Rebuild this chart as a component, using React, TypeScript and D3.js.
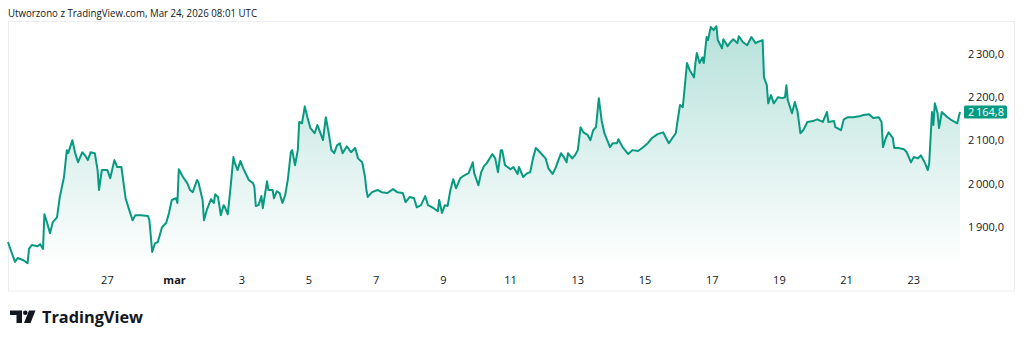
import React from "react";
import * as d3 from "d3";

// Hours since 2026-02-24 00:00 UTC, closing price
const priceSeries: [number, number][] = [
  [1,1865],[3,1846],[6,1819],[8,1828],[12,1823],[15,1816],[16,1849],[18,1858],[22,1855],[24,1860],
  [26,1849],[27,1929],[29,1909],[31,1885],[33,1911],[36,1922],[38,1969],[41,2015],[43,2077],[44,2070],
  [47,2100],[49,2070],[51,2049],[54,2072],[56,2065],[58,2054],[60,2072],[63,2070],[65,2031],[66,1985],
  [68,2031],[72,2031],[74,2012],[77,2054],[79,2038],[82,2038],[85,1966],[87,1945],[90,1915],[92,1927],
  [96,1927],[101,1925],[102,1915],[104,1842],[106,1862],[108,1865],[111,1899],[114,1909],[116,1932],[118,1962],
  [121,1966],[122,1955],[123,2033],[126,2015],[129,2001],[131,1985],[133,1980],[136,2008],[137,2003],[140,1962],
  [141,1915],[143,1939],[146,1964],[148,1955],[149,1975],[151,1969],[153,1927],[155,1950],[156,1945],[158,1929],
  [160,1992],[162,2061],[163,2047],[165,2031],[167,2052],[169,2035],[173,2008],[176,2001],[177,1992],[178,1948],
  [180,1950],[182,1971],[183,1943],[186,2005],[187,1985],[190,1985],[191,1966],[193,1982],[195,1978],[197,1955],
  [199,1973],[201,2012],[203,2072],[204,2077],[206,2042],[208,2077],[209,2142],[211,2139],[213,2178],[215,2151],
  [217,2128],[220,2116],[222,2135],[224,2118],[226,2100],[228,2153],[230,2118],[232,2077],[234,2070],[236,2088],
  [238,2093],[240,2070],[243,2086],[246,2072],[249,2082],[251,2058],[254,2049],[256,2015],[257,1985],[258,1969],
  [261,1980],[265,1985],[268,1980],[272,1978],[276,1987],[279,1980],[283,1978],[285,1957],[288,1969],[291,1966],
  [293,1945],[296,1950],[299,1971],[301,1950],[305,1943],[308,1936],[309,1962],[311,1932],[313,1950],[315,1948],
  [317,1985],[319,2010],[321,1989],[324,2012],[327,2019],[330,2024],[333,2049],[334,2024],[337,1996],[339,2026],
  [341,2040],[343,2047],[347,2068],[349,2058],[351,2026],[353,2077],[354,2077],[356,2042],[360,2033],[362,2038],
  [365,2022],[366,2038],[369,2015],[372,2024],[374,2026],[376,2058],[378,2082],[381,2072],[385,2058],[387,2035],
  [390,2022],[392,2035],[396,2070],[398,2061],[400,2049],[401,2070],[404,2058],[406,2065],[408,2077],[410,2130],
  [412,2118],[415,2112],[417,2100],[419,2123],[421,2130],[423,2197],[425,2146],[427,2116],[429,2100],[431,2084],
  [433,2093],[436,2093],[437,2102],[440,2084],[444,2068],[447,2077],[451,2075],[454,2082],[458,2093],[461,2105],
  [465,2114],[469,2118],[471,2105],[473,2093],[476,2107],[478,2116],[479,2139],[481,2181],[483,2176],[485,2243],
  [486,2278],[488,2261],[491,2245],[492,2278],[493,2301],[495,2278],[497,2291],[498,2278],[500,2338],[501,2331],
  [503,2361],[505,2354],[507,2363],[508,2331],[511,2312],[512,2333],[515,2317],[517,2326],[519,2333],[522,2324],
  [523,2340],[526,2326],[529,2319],[532,2338],[535,2324],[536,2326],[540,2331],[541,2245],[543,2227],[544,2185],
  [546,2204],[548,2185],[551,2199],[554,2197],[556,2199],[557,2227],[558,2192],[561,2162],[563,2188],[565,2165],
  [567,2116],[569,2123],[572,2142],[576,2144],[579,2148],[583,2142],[586,2165],[587,2142],[591,2144],[592,2130],
  [596,2123],[598,2148],[601,2153],[605,2153],[609,2155],[612,2158],[616,2160],[619,2151],[623,2153],[625,2142],
  [626,2084],[628,2105],[630,2118],[633,2105],[634,2082],[637,2082],[641,2079],[643,2072],[646,2049],[648,2061],
  [651,2058],[653,2065],[656,2047],[658,2031],[659,2047],[661,2165],[662,2135],[663,2185],[665,2162],[666,2128],
  [668,2165],[672,2153],[675,2146],[679,2139],[681,2164.8],
];

const priceTicks = [1900, 2000, 2100, 2200, 2300];
const timeTickDates = ["2026-02-27", "2026-03-01", "2026-03-03", "2026-03-05", "2026-03-07", "2026-03-09",
  "2026-03-11", "2026-03-13", "2026-03-15", "2026-03-17", "2026-03-19", "2026-03-21", "2026-03-23"];
const timeTickLabels = ["27", "mar", "3", "5", "7", "9", "11", "13", "15", "17", "19", "21", "23"];
const headerText = "Utworzono z TradingView.com, Mar 24, 2026 08:01 UTC";
const startTime = Date.UTC(2026, 1, 24, 0, 0);

const GREEN = "#089981";
const FONT = "'Open Sans', 'Noto Sans', sans-serif";

export default function App() {
  const W = 1024, H = 342;
  const data = priceSeries.map(([h, p]) => ({ t: new Date(startTime + h * 3600000), p }));
  const x = d3.scaleUtc()
    .domain([data[0].t, data[data.length - 1].t])
    .range([8, 960]);
  const y = d3.scaleLinear().domain([1805, 2375]).range([268, 21]);

  const line = d3.line<{ t: Date; p: number }>().x(d => x(d.t)).y(d => y(d.p));
  const area = d3.area<{ t: Date; p: number }>().x(d => x(d.t)).y0(268).y1(d => y(d.p));

  const fmt = (v: number) => {
    const s = v.toFixed(1).replace(".", ",");
    const [ip, dp] = s.split(",");
    const withSep = ip.replace(/\B(?=(\d{3})+(?!\d))/g, "\u2009");
    return withSep + "," + dp;
  };
  const last = data[data.length - 1].p;
  const lastY = y(last);

  return (
    <svg width={W} height={H} style={{ position: "absolute", left: 0, top: 0, background: "#fff" }}>
      <defs>
        <linearGradient id="areaGrad" gradientUnits="userSpaceOnUse" x1={0} y1={21} x2={0} y2={268}>
          <stop offset="0%" stopColor={GREEN} stopOpacity={0.3} />
          <stop offset="100%" stopColor={GREEN} stopOpacity={0.0} />
        </linearGradient>
      </defs>
      <text x={8} y={16.5} fontFamily={FONT} fontSize={11} fill="#131722" textLength={249} lengthAdjust="spacingAndGlyphs">
        {headerText}
      </text>
      <rect x={8.5} y={21.5} width={1006} height={269.5} fill="none" stroke="#eceef2" strokeWidth={1} />
      <path d={area(data) || ""} fill="url(#areaGrad)" />
      <path d={line(data) || ""} fill="none" stroke={GREEN} strokeWidth={2} strokeLinejoin="round" />
      {priceTicks.map(v => (
        <text key={v} x={1004} y={y(v) + 4} textAnchor="end" fontFamily={FONT} fontSize={11} fill="#131722">
          {fmt(v)}
        </text>
      ))}
      <rect x={964} y={lastY - 6.5} width={43} height={13} rx={1.5} fill={GREEN} />
      <text x={1004} y={lastY + 4} textAnchor="end" fontFamily={FONT} fontSize={11} fill="#fff">
        {fmt(last)}
      </text>
      {timeTickDates.map((d, i) => (
        <text key={d} x={x(new Date(d + "T00:00:00Z"))} y={284} textAnchor="middle" fontFamily={FONT}
          fontSize={11} fontWeight={timeTickLabels[i] === "mar" ? 700 : 400} fill="#131722">
          {timeTickLabels[i]}
        </text>
      ))}
      <g fill="#131722">
        <path d="M10,310.5 H22 V323 H16.5 V315 H10 Z" />
        <circle cx={25.3} cy={312.7} r={2.3} />
        <path d="M29,310.5 H35.5 L30.5,323 H24 Z" />
        <text x={42} y={323} fontFamily={FONT} fontSize={16} fontWeight={700} textLength={101} lengthAdjust="spacingAndGlyphs">
          TradingView
        </text>
      </g>
    </svg>
  );
}
